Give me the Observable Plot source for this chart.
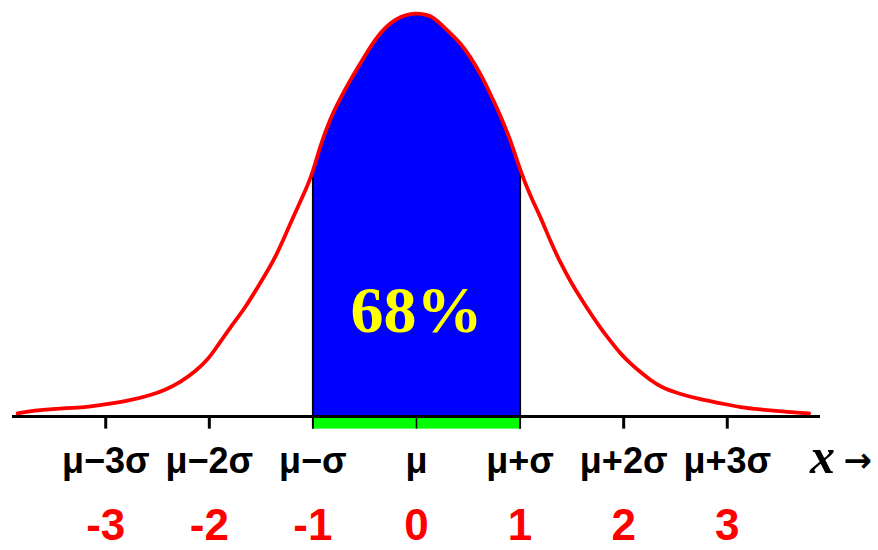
<!DOCTYPE html>
<html>
<head>
<meta charset="utf-8">
<script src="https://cdn.jsdelivr.net/npm/d3@7"></script>
<script src="https://cdn.jsdelivr.net/npm/@observablehq/plot@0.6"></script>
<style>
  html, body { margin: 0; padding: 0; background: #fff; }
  #chart { width: 878px; height: 550px; }
</style>
</head>
<body>
<div id="chart"></div>
<script>
// x in units of sigma, curve height (density)
const sigmaX = [-3.85, -3.70, -3.44, -3.20, -3.00, -2.76, -2.57, -2.43, -2.28, -2.14, -2.01, -1.94, -1.80, -1.65, -1.51, -1.36, -1.22, -1.07, -1.00, -0.93, -0.83, -0.73, -0.64, -0.54, -0.44, -0.35, -0.25, -0.15, -0.06, 0.04, 0.14, 0.23, 0.33, 0.43, 0.52, 0.62, 0.71, 0.81, 0.91, 1.00, 1.10, 1.20, 1.29, 1.39, 1.49, 1.58, 1.68, 1.78, 1.87, 1.97, 2.07, 2.16, 2.26, 2.36, 2.55, 2.74, 2.94, 3.13, 3.32, 3.52, 3.79];
const density = [0.003, 0.006, 0.008, 0.009, 0.012, 0.016, 0.021, 0.026, 0.034, 0.044, 0.057, 0.067, 0.088, 0.108, 0.132, 0.157, 0.191, 0.224, 0.242, 0.268, 0.296, 0.316, 0.333, 0.350, 0.367, 0.380, 0.390, 0.396, 0.399, 0.399, 0.397, 0.389, 0.379, 0.369, 0.356, 0.339, 0.320, 0.298, 0.273, 0.244, 0.218, 0.197, 0.174, 0.152, 0.133, 0.118, 0.102, 0.087, 0.075, 0.062, 0.052, 0.044, 0.036, 0.029, 0.022, 0.017, 0.013, 0.009, 0.007, 0.005, 0.003];

const tickValues = [-3, -2, -1, 0, 1, 2, 3];
const sigmaLabels = ["μ−3σ", "μ−2σ", "μ−σ", "μ", "μ+σ", "μ+2σ", "μ+3σ"];
const zLabels = ["-3", "-2", "-1", "0", "1", "2", "3"];
const bandLow = -1;
const bandHigh = 1;
const shareLabel = "68%";
const axisName = "x";
const arrowLabel = "→";

const curve = sigmaX.map((x, i) => ({x, y: density[i]}));
const band = curve.filter(d => d.x >= bandLow && d.x <= bandHigh);
const edgeLow = curve.find(d => d.x === bandLow);
const edgeHigh = curve.find(d => d.x === bandHigh);

const ticks = tickValues.map((v, i) => ({v, s: sigmaLabels[i], z: zLabels[i]}));
const outerTicks = ticks.filter(d => Math.abs(d.v) > 1);

// layout constants in y units
const tickDepth = -0.0125;
const sigmaRowY = -0.056;
const zRowY = -0.1227;

const chart = Plot.plot({
  width: 878,
  height: 550,
  marginLeft: 12,
  marginRight: 58,
  marginTop: 12,
  marginBottom: 134,
  x: {domain: [-3.9, 3.9], axis: null},
  y: {domain: [0, 0.4], axis: null},
  style: {background: "#fff", overflow: "visible"},
  marks: [
    Plot.areaY(band, {x: "x", y: "y", fill: "#0000ff", curve: "basis"}),
    Plot.rect([{a: bandLow, b: bandHigh}], {x1: "a", x2: "b", y1: tickDepth, y2: 0, fill: "#00ff00"}),
    Plot.ruleY([0], {stroke: "#000", strokeWidth: 3}),
    Plot.ruleX(outerTicks, {x: "v", y1: 0, y2: tickDepth, stroke: "#000", strokeWidth: 3}),
    Plot.ruleX([0], {y1: 0, y2: tickDepth, stroke: "#000", strokeWidth: 1.5}),
    Plot.ruleX([edgeLow, edgeHigh], {x: "x", y1: tickDepth, y2: "y", stroke: "#000", strokeWidth: 2}),
    Plot.line(curve, {x: "x", y: "y", stroke: "#ff0000", strokeWidth: 3.8, curve: "basis"}),
    Plot.text([shareLabel], {x: 0, y: 0.084, text: d => d, fill: "#ffff00", fontSize: 66, fontWeight: "bold", fontFamily: "Liberation Serif, Times New Roman, serif", lineAnchor: "bottom"}),
    Plot.text(ticks, {x: "v", y: sigmaRowY, text: "s", fill: "#000", fontSize: 36, fontWeight: "bold", fontFamily: "Liberation Sans, Arial, sans-serif", lineAnchor: "bottom"}),
    Plot.text(ticks, {x: "v", y: zRowY, text: "z", fill: "#ff0000", fontSize: 44, fontWeight: "bold", fontFamily: "Liberation Sans, Arial, sans-serif", lineAnchor: "bottom"}),
    Plot.text([axisName], {x: 3.92, y: sigmaRowY, text: d => d, fill: "#000", fontSize: 50, fontWeight: "bold", fontStyle: "italic", fontFamily: "Liberation Serif, Times New Roman, serif", lineAnchor: "bottom"}),
    Plot.text([arrowLabel], {x: 4.26, y: -0.044, text: d => d, fill: "#000", fontSize: 34, fontWeight: "bold", fontFamily: "DejaVu Sans, sans-serif", lineAnchor: "middle"})
  ]
});
document.getElementById("chart").appendChild(chart);
</script>
</body>
</html>
